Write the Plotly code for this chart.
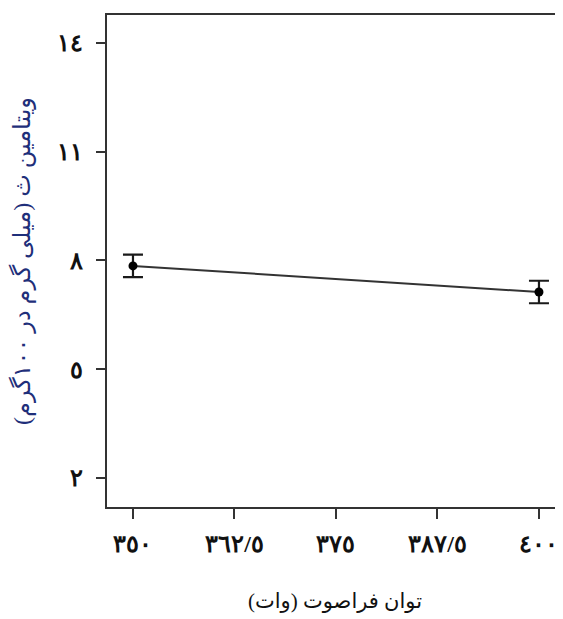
import plotly.graph_objects as go

# Data
power = [350, 400]
vitamin_c = [7.85, 7.13]
error = [0.31, 0.31]

x_tickvals = [350, 362.5, 375, 387.5, 400]
x_ticktext = ["٣٥٠", "٣٦٢/٥", "٣٧٥", "٣٨٧/٥", "٤٠٠"]
y_tickvals = [2, 5, 8, 11, 14]
y_ticktext = ["٢", "٥", "٨", "١١", "١٤"]

x_title = "توان فراصوت (وات)"
y_title = "ویتامین ث (میلی گرم در ۱۰۰گرم)"

fig = go.Figure()
fig.add_trace(go.Scatter(
    x=power, y=vitamin_c,
    mode="lines+markers",
    line=dict(color="#333333", width=2),
    marker=dict(color="black", size=9),
    error_y=dict(type="data", array=error, visible=True,
                 color="#1a1a1a", thickness=2.2, width=10),
    showlegend=False,
))

tick_font = dict(family="Times New Roman, Liberation Serif, DejaVu Serif, serif",
                 size=24, color="#111111", weight="bold")

fig.update_layout(
    width=555, height=611,
    margin=dict(l=99, r=0, t=7, b=112),
    paper_bgcolor="white", plot_bgcolor="white",
    xaxis=dict(
        range=[346.8, 402.96],
        tickvals=x_tickvals, ticktext=x_ticktext,
        showgrid=False, zeroline=False,
        showline=True, linecolor="#333333", linewidth=2, mirror=True,
        ticks="outside", ticklen=10, tickwidth=2, tickcolor="#333333",
        ticklabelstandoff=4, ticklabeloverflow="allow",
        tickfont=tick_font,
        title=dict(text=x_title, standoff=38,
                   font=dict(family="Times New Roman, Liberation Serif, DejaVu Sans, serif",
                             size=21, color="#111111")),
    ),
    yaxis=dict(
        range=[1.2, 14.77],
        tickvals=y_tickvals, ticktext=y_ticktext,
        showgrid=False, zeroline=False,
        showline=True, linecolor="#333333", linewidth=2,
        ticks="outside", ticklen=9, tickwidth=2, tickcolor="#333333",
        ticklabelstandoff=8,
        tickfont=tick_font,
        title=dict(text=y_title, standoff=20,
                   font=dict(family="Times New Roman, Liberation Serif, DejaVu Sans, serif",
                             size=24, color="#1f2f7a")),
    ),
)

fig.write_html("out.html")
